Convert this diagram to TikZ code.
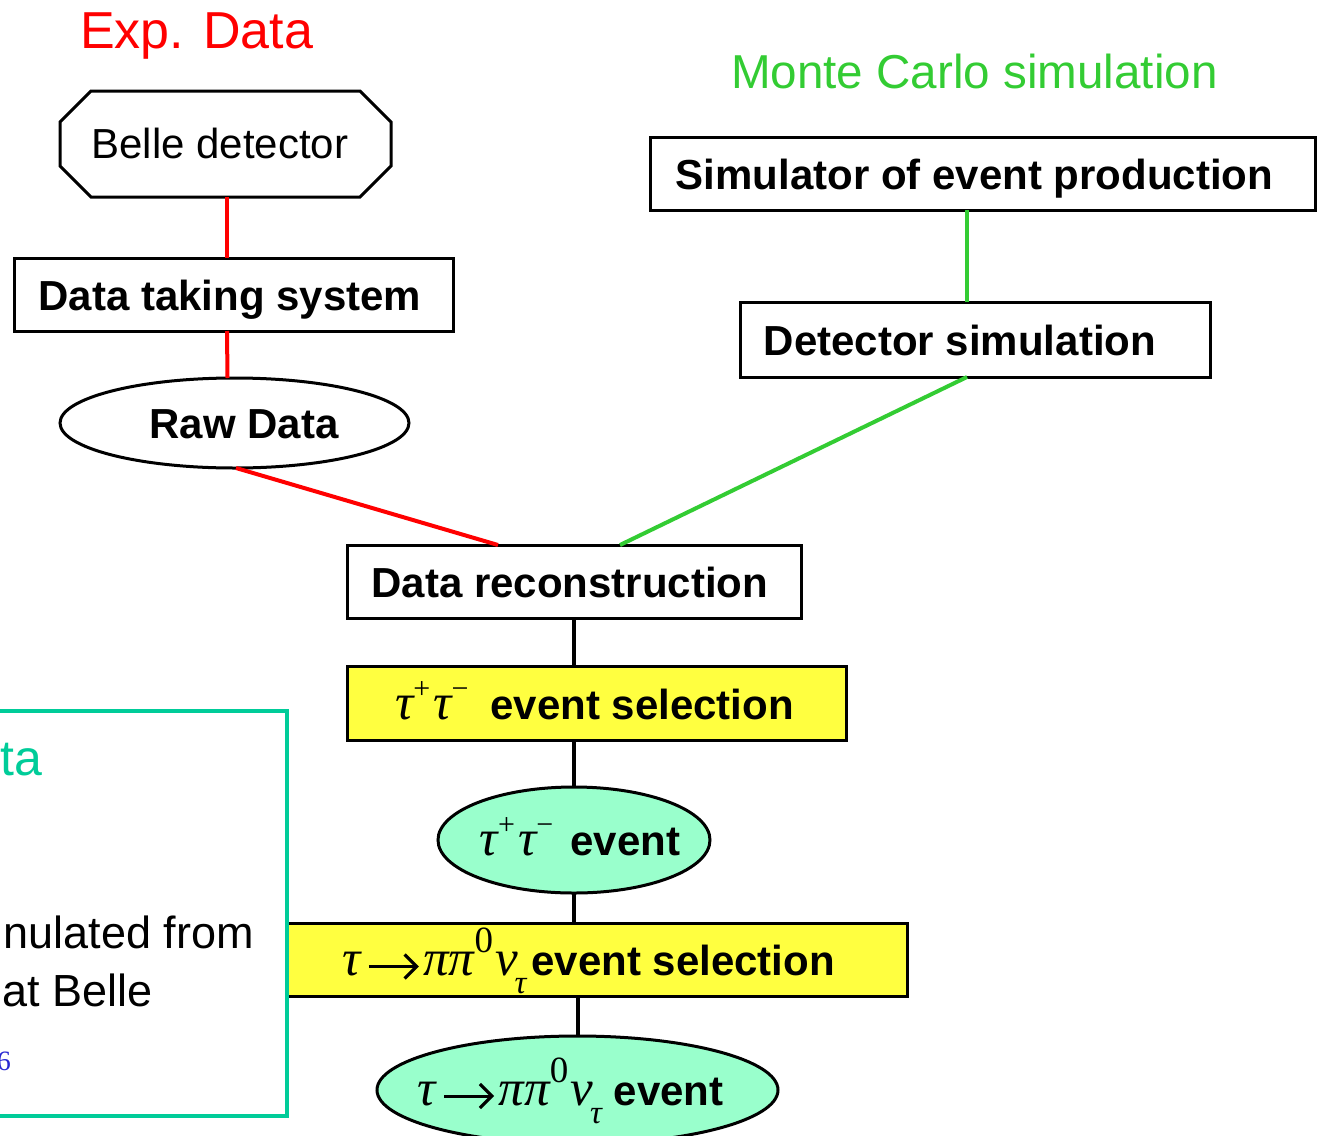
\documentclass[tikz,border=0pt]{standalone}
\usepackage{fontspec}
\setmainfont{Liberation Sans}
\newfontfamily\gr{Liberation Serif}
\usetikzlibrary{shapes.geometric,calc,arrows.meta}
\definecolor{expred}{RGB}{255,0,0}
\definecolor{mcgreen}{RGB}{51,204,51}
\definecolor{tealc}{RGB}{0,204,153}
\definecolor{mint}{RGB}{153,255,204}
\definecolor{selyel}{RGB}{255,255,64}
\definecolor{numblue}{RGB}{40,40,210}
\newcommand\fs[1]{\fontsize{#1}{#1}\selectfont}
\newcommand\gk[1]{{\gr\mdseries\itshape\fs{51}#1}}
\newcommand\gsup[1]{\raisebox{21pt}{\gr\mdseries\upshape\fs{30}#1}}
\newcommand\gzero{\raisebox{23pt}{\gr\mdseries\upshape\fs{37}0}}
\newcommand\gsub{\raisebox{-18pt}{\gr\mdseries\itshape\fs{33}τ}}
\newcommand\garr{\tikz[baseline=0pt]{\draw[line width=3pt, line cap=butt,
   -{Straight Barb[length=12pt,width=24pt,line width=3.2pt]}] (0pt,9pt) -- (50pt,9pt);}}
\begin{document}
\begin{tikzpicture}[x=1pt,y=-1pt,
  every node/.style={inner sep=0pt, outer sep=0pt, font=\fs{42}},
  box/.style={draw=black, line width=3pt, rectangle, font=\fs{42}\bfseries,
              text height=32pt, text depth=0pt},
  selbox/.style={box, fill=selyel},
  oval/.style={draw=black, line width=3pt, ellipse, font=\fs{42}\bfseries,
               text height=30pt, text depth=0pt},
  redline/.style={draw=expred, line width=4pt},
  greenline/.style={draw=mcgreen, line width=4pt},
  blackline/.style={draw=black, line width=4pt}]
\useasboundingbox (0,0) rectangle (1319,1135);
\clip (0,0) rectangle (1319,1135);

% titles
\node[anchor=base west, text=expred, font=\fs{52}] (exptitle) at (80,48) {Exp. Data};
\node[anchor=base west, text=mcgreen, font=\fs{47.6}] (mctitle) at (731,88) {Monte Carlo simulation};

% experimental chain
\node[rectangle, minimum width=331pt, minimum height=106pt, text height=28pt, text depth=0pt] (belle)
      at (225.5,144) {Belle detector\hspace*{11pt}};
\draw[line width=3pt, line join=miter]
  ($(belle.north west)+(31,0)$) -- ($(belle.north east)+(-31,0)$) -- ($(belle.north east)+(0,31)$)
  -- ($(belle.south east)+(0,-31)$) -- ($(belle.south east)+(-31,0)$) -- ($(belle.south west)+(31,0)$)
  -- ($(belle.south west)+(0,-31)$) -- ($(belle.north west)+(0,31)$) -- cycle;
\node[box, minimum width=439pt, minimum height=73pt] (dts) at (233.5,294.5) {Data taking system\hspace*{7pt}};
\node[oval, minimum width=349pt, minimum height=90pt] (raw) at (234.5,423) {\makebox[0pt]{\hspace*{19pt}Raw Data}};

% MC chain
\node[box, minimum width=665pt, minimum height=73pt] (sim) at (982.5,173.5) {Simulator of event production\hspace*{16pt}};
\node[box, minimum width=470pt, minimum height=75pt] (det) at (975,339.5) {Detector simulation\hspace*{30pt}};

% common chain
\node[box, minimum width=454pt, minimum height=73pt] (rec) at (574,581.5) {Data reconstruction\hspace*{8pt}};
\node[selbox, minimum width=499pt, minimum height=74pt] (sel1) at (596.5,703)
  {\gk{τ}\gsup{+}\hspace{3pt}\gk{τ}\gsup{−}\hspace{22pt}event selection\hspace*{4pt}};
\node[oval, fill=mint, minimum width=272pt, minimum height=106pt] (ev1) at (574,840)
  {\makebox[0pt]{\hspace*{12pt}\gk{τ}\gsup{+}\hspace{3pt}\gk{τ}\gsup{−}\hspace{17pt}event}};
\node[selbox, minimum width=620pt, minimum height=73pt] (sel2) at (597,959.5)
  {\gk{τ}\hspace{7pt}\garr\hspace{3pt}\gk{ππ}\gzero\hspace{2pt}\gk{ν}\hspace{-3pt}\gsub\hspace{5pt}event selection\hspace*{17pt}};
\node[oval, fill=mint, minimum width=401pt, minimum height=108pt] (ev2) at (577.5,1090)
  {\makebox[0pt]{\gk{τ}\hspace{7pt}\garr\hspace{3pt}\gk{ππ}\gzero\hspace{2pt}\gk{ν}\hspace{-3pt}\gsub\hspace{12pt}event\hspace*{14pt}}};

% partially visible note box
\node[draw=tealc, line width=4pt, rectangle, minimum width=487pt, minimum height=405pt] (note) at (43.5,913.5) {};
\node[anchor=base east, text=tealc, font=\fs{50}] (notetitle) at (42,775) {ta};
\node[anchor=base east, font=\fs{45}] (noteline1) at (254,948) {nulated from};
\node[anchor=base east, font=\fs{45}] (noteline2) at (153,1006) {at Belle};
\node[anchor=base east, text=numblue, font=\gr\fs{28}] (noteref) at (11,1070) {6};

% connectors
\draw[redline] (belle.south -| 227,0) -- (dts.north -| 227,0);
\draw[redline] (dts.south -| 227,0) -- ($(raw.north)+(-7,0)$);
\draw[redline] ($(raw.south)+(1.5,0)$) -- ($(rec.north)+(-76,0)$);
\draw[greenline] (sim.south -| 967,0) -- (det.north -| 967,0);
\draw[greenline] ($(det.south)+(-8,0)$) -- ($(rec.north)+(46,0)$);
\draw[blackline] (rec.south) -- (rec.south |- sel1.north);
\draw[blackline] (ev1.north |- sel1.south) -- (ev1.north);
\draw[blackline] (ev1.south) -- (ev1.south |- sel2.north);
\draw[blackline] (ev2.north |- sel2.south) -- (ev2.north);
\end{tikzpicture}
\end{document}
